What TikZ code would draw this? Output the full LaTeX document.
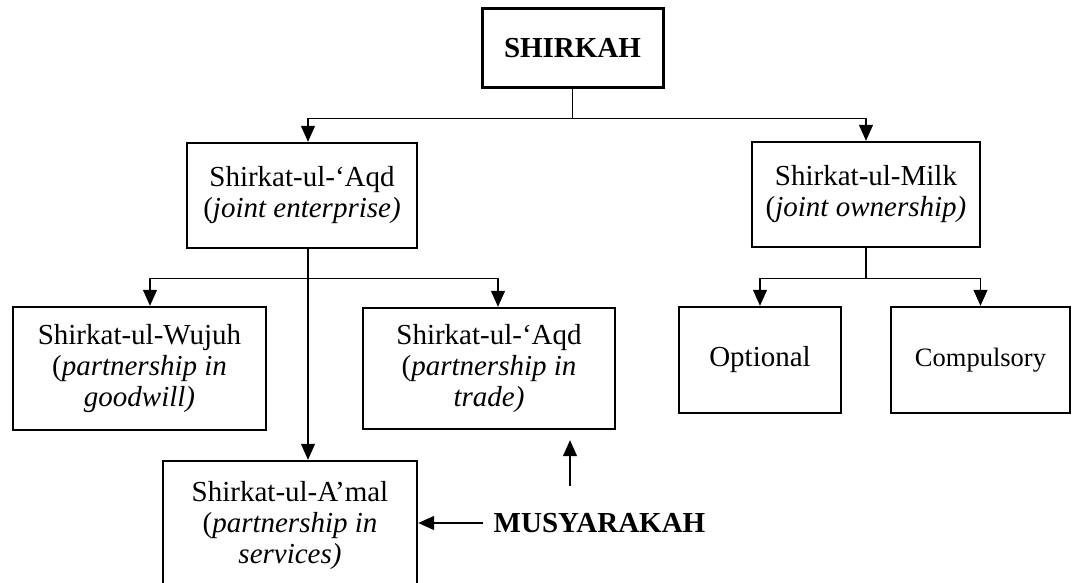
\documentclass[tikz,border=0pt]{standalone}
\usepackage{fontspec}
\setmainfont{Liberation Serif}
\usetikzlibrary{arrows.meta}
\tikzset{
  box/.style={draw, line width=2.4pt, align=center, inner sep=0pt,
    font=\fontsize{29}{31}\selectfont},
  title/.style={font=\fontsize{29}{31}\selectfont\bfseries},
  arr/.style={-{Triangle[length=16pt,width=14pt]}, line width=1.2pt},
  link/.style={line width=1.2pt},
}
\begin{document}
\begin{tikzpicture}[x=1pt,y=-1pt]
\clip (0,0) rectangle (1072,583);

% boxes
\node[box, title, line width=3pt, minimum width=181pt, minimum height=79pt] (shirkah) at (572.5,48.5) {SHIRKAH};
\node[box, minimum width=230pt, minimum height=105pt] (aqd) at (302,195.5) {Shirkat-ul-‘Aqd\\(\textit{joint enterprise)}};
\node[box, minimum width=228pt, minimum height=105pt] (milk) at (866,194.5) {Shirkat-ul-Milk\\(\textit{joint ownership)}};
\node[box, minimum width=253pt, minimum height=123pt] (wujuh) at (139.5,368.5) {Shirkat-ul-Wujuh\\(\textit{partnership in}\\\textit{goodwill)}};
\node[box, minimum width=252pt, minimum height=121pt] (trade) at (489,368.5) {Shirkat-ul-‘Aqd\\(\textit{partnership in}\\\textit{trade)}};
\node[box, minimum width=162pt, minimum height=106pt] (optional) at (760,360) {Optional};
\node[box, minimum width=179pt, minimum height=106pt, font=\fontsize{26.5}{30}\selectfont] (compulsory) at (980.5,360) {Compulsory};
\node[box, minimum width=254pt, minimum height=129pt] (amal) at (290,525.5) {Shirkat-ul-A’mal\\(\textit{partnership in}\\\textit{services)}};
\node[title, inner sep=10pt] (musy) at (599.5,523) {MUSYARAKAH};

% SHIRKAH branches
\draw[link] (shirkah.south) -- ++(0,29) coordinate (t1);
\draw[arr] (t1) -| ([xshift=6pt]aqd.north);
\draw[arr] (t1) -| (milk.north);

% Shirkat-ul-'Aqd branches
\draw[arr] ([xshift=6pt]aqd.south) -- ([xshift=6pt]aqd.south |- amal.north);
\coordinate (t2) at ([xshift=6pt,yshift=-29pt]aqd.south);
\draw[arr] (t2) -| ([xshift=10.5pt]wujuh.north);
\draw[arr] (t2) -| ([xshift=9pt]trade.north);

% Shirkat-ul-Milk branches
\draw[link] (milk.south) -- ++(0,30) coordinate (t3);
\draw[arr] (t3) -| (optional.north);
\draw[arr] (t3) -| (compulsory.north);

% MUSYARAKAH pointers
\draw[arr] (musy.west) -- (musy.west -| amal.east);
\coordinate (tb) at ([yshift=-10pt]trade.south);
\coordinate (ms) at ([xshift=-29.5pt,yshift=17pt]musy.north);
\draw[arr] (ms) -- (ms |- tb);
\end{tikzpicture}
\end{document}
